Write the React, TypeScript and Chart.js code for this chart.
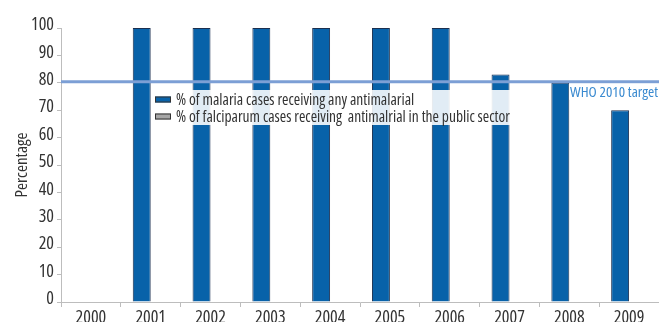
import React, { useEffect, useRef } from "react";
import { Chart, registerables } from "chart.js";

Chart.register(...registerables);

const years = ["2000", "2001", "2002", "2003", "2004", "2005", "2006", "2007", "2008", "2009"];
const anyAntimalarial = [null, 100, 100, 100, 100, 100, 100, 83, 80, 70];
const falciparumPublic = [null, null, null, null, null, null, null, null, null, null];
const seriesLabels = [
  "% of malaria cases receiving any antimalarial",
  "% of falciparum cases receiving  antimalrial in the public sector",
];
const yMin = 0;
const yMax = 100;
const yStep = 10;
const targetValue = 80;
const targetLabel = "WHO 2010 target";
const yTitle = "Percentage";

const FAMILY = "'Open Sans', sans-serif";
const STRETCH = "condensed";
const TEXT = "#333333";
const BLUE = "#0862a9";
const GREY = "#a6a6a6";
const AXIS = "#bdbdbd";

const fontStr = (size: number) => `${STRETCH} ${size}px ${FAMILY}`;
const cfont = (size: number) => ({ family: FAMILY, size, weight: STRETCH as any });

const overlayPlugin = {
  id: "overlay",
  afterDatasetsDraw(chart: any) {
    const { ctx, chartArea, scales } = chart;
    const y = scales.y.getPixelForValue(targetValue);
    ctx.save();
    ctx.strokeStyle = "#7c9fd5";
    ctx.lineWidth = 3;
    ctx.beginPath();
    ctx.moveTo(chartArea.left, y - 1);
    ctx.lineTo(chart.width, y - 1);
    ctx.stroke();

    // target label
    ctx.font = fontStr(15);
    const lx = 569;
    const tw = ctx.measureText(targetLabel).width;
    ctx.fillStyle = "#ffffff";
    ctx.fillRect(lx, y + 1, tw + 4, 16);
    ctx.fillStyle = "#3a8ad0";
    ctx.textBaseline = "alphabetic";
    ctx.fillText(targetLabel, lx + 1, y + 14);

    // legend
    const bx = 151;
    const by = 90;
    ctx.font = fontStr(15.5);
    const w = Math.max(...seriesLabels.map((s) => ctx.measureText(s).width)) + 40;
    ctx.fillStyle = "rgba(255,255,255,0.88)";
    ctx.fillRect(bx, by, w, 35);
    const colors = [BLUE, GREY];
    seriesLabels.forEach((s, i) => {
      const ry = by + 9.5 + i * 17;
      ctx.fillStyle = colors[i];
      ctx.fillRect(bx + 4, ry - 3, 16, 6);
      ctx.strokeStyle = "#333";
      ctx.lineWidth = 1;
      ctx.strokeRect(bx + 4.5, ry - 2.5, 15, 5);
      ctx.fillStyle = TEXT;
      ctx.textBaseline = "alphabetic";
      ctx.fillText(s, bx + 25, ry + 5.5);
    });
    ctx.restore();
  },
};

export default function App() {
  const ref = useRef<HTMLCanvasElement>(null);
  useEffect(() => {
    document.body.style.margin = "0";
    const chart = new Chart(ref.current!, {
      type: "bar",
      data: {
        labels: years,
        datasets: [
          {
            label: seriesLabels[0],
            data: anyAntimalarial,
            backgroundColor: BLUE,
            borderColor: "#1b2f4f",
            borderWidth: 1,
            barPercentage: 1,
            categoryPercentage: 0.6,
          },
          {
            label: seriesLabels[1],
            data: falciparumPublic,
            backgroundColor: GREY,
            borderColor: "#333",
            borderWidth: 1,
            barPercentage: 1,
            categoryPercentage: 0.6,
          },
        ],
      },
      options: {
        responsive: false,
        animation: false,
        layout: { padding: { top: 28, right: 0, left: 12, bottom: 0 } },
        plugins: {
          legend: { display: false },
          tooltip: { enabled: false },
        },
        scales: {
          x: {
            offset: true,
            grid: { display: true, drawOnChartArea: false, drawTicks: true, tickLength: 5, color: AXIS, offset: true },
            border: { color: AXIS, width: 1 },
            ticks: { color: TEXT, font: cfont(18), padding: 0, maxRotation: 0 },
            afterFit: (s: any) => {
              s.height = 20;
            },
          },
          y: {
            min: yMin,
            max: yMax,
            ticks: {
              stepSize: yStep,
              color: TEXT,
              font: cfont(18),
              padding: 3,
              labelOffset: -3,
            },
            grid: { display: true, drawOnChartArea: false, drawTicks: true, tickLength: 4, color: AXIS },
            border: { color: AXIS, width: 1 },
            title: {
              display: true,
              text: yTitle,
              color: TEXT,
              font: cfont(17),
              padding: 0,
            },
            afterFit: (s: any) => {
              s.width = 49;
            },
          },
        },
      },
      plugins: [overlayPlugin],
    });
    return () => chart.destroy();
  }, []);
  return (
    <div style={{ width: 659, height: 322 }}>
      <canvas ref={ref} width={659} height={322} />
    </div>
  );
}
